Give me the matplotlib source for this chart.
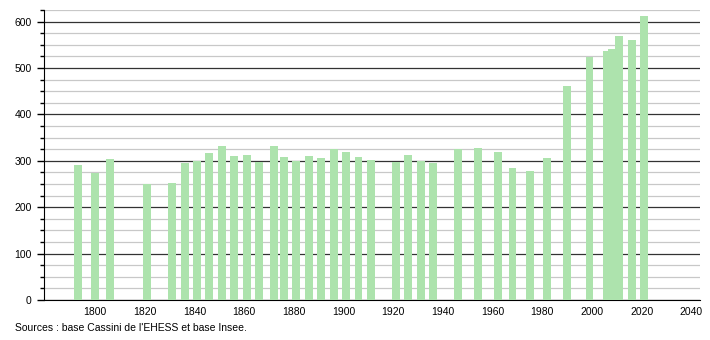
import matplotlib
matplotlib.use("Agg")
import matplotlib.pyplot as plt
from matplotlib.ticker import MultipleLocator

# census years and population
years = [1793, 1800, 1806, 1821, 1831, 1836, 1841, 1846, 1851, 1856,
         1861, 1866, 1872, 1876, 1881, 1886, 1891, 1896, 1901, 1906,
         1911, 1921, 1926, 1931, 1936, 1946, 1954, 1962, 1968, 1975,
         1982, 1990, 1999, 2006, 2008, 2011, 2016, 2021]
population = [291, 273, 304, 251, 253, 296, 300, 317, 331, 311,
              312, 298, 331, 309, 300, 310, 307, 326, 318, 309,
              302, 297, 313, 300, 296, 326, 328, 318, 285, 279,
              307, 462, 524, 536, 542, 568, 560, 612]

x_ticks = [1800, 1820, 1840, 1860, 1880, 1900, 1920, 1940, 1960, 1980, 2000, 2020, 2040]
source_text = "Sources : base Cassini de l'EHESS et base Insee."

plt.rcParams['font.family'] = ['Liberation Sans', 'DejaVu Sans']

fig = plt.figure(figsize=(7.1, 3.4), dpi=100)
ax = fig.add_axes([0.062, 0.1176, 0.924, 0.853])

ax.bar(years, population, width=3.2, color='#ade3ad', zorder=3)

ax.set_xlim(1779.4, 2043.5)
ax.set_ylim(0, 625)

ax.yaxis.set_major_locator(MultipleLocator(100))
ax.yaxis.set_minor_locator(MultipleLocator(25))
ax.set_xticks(x_ticks)

ax.grid(which='major', axis='y', color='#333333', linewidth=0.9, zorder=1)
ax.grid(which='minor', axis='y', color='#c8c8c8', linewidth=0.9, zorder=1)

for side in ['top', 'right']:
    ax.spines[side].set_visible(False)
ax.spines['left'].set_color('black')
ax.spines['bottom'].set_color('black')

ax.tick_params(axis='y', which='major', length=5, width=1, labelsize=7.5, pad=4, colors='black')
ax.tick_params(axis='y', which='minor', length=3, width=1)
ax.tick_params(axis='x', which='both', length=0, labelsize=7.5, pad=5)

fig.text(0.021, 0.035, source_text, fontsize=7.5, ha='left', va='center')

fig.savefig("out.png", dpi=100)
